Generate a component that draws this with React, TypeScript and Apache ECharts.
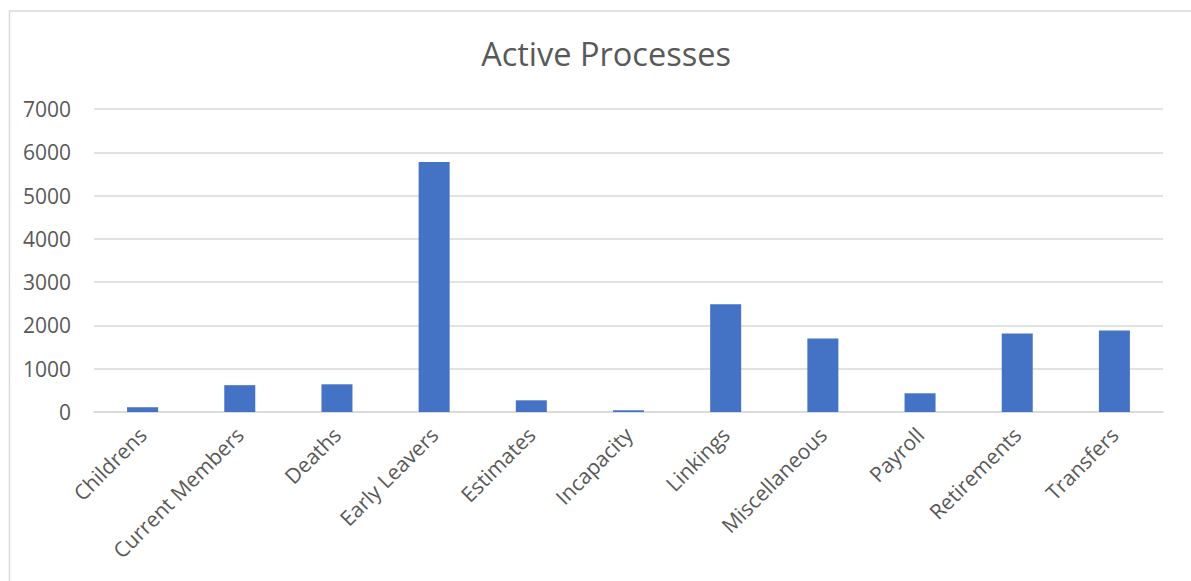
import React, { useEffect, useRef } from "react";
import * as echarts from "echarts";

const categories = [
  "Childrens",
  "Current Members",
  "Deaths",
  "Early Leavers",
  "Estimates",
  "Incapacity",
  "Linkings",
  "Miscellaneous",
  "Payroll",
  "Retirements",
  "Transfers",
];
const values = [110, 620, 640, 5775, 270, 40, 2490, 1700, 432, 1815, 1885];
const chartTitle = "Active Processes";

export default function App() {
  const ref = useRef<HTMLDivElement>(null);
  useEffect(() => {
    if (!ref.current) return;
    const chart = echarts.init(ref.current, undefined, { renderer: "svg" });
    const font = "'Open Sans', 'Noto Sans', sans-serif";
    chart.setOption({
      animation: false,
      backgroundColor: "#ffffff",
      title: {
        text: chartTitle,
        left: 601,
        textAlign: "center",
        top: 32,
        textStyle: { fontFamily: font, fontSize: 32.5, fontWeight: "normal", color: "#595959" },
      },
      graphic: [
        {
          type: "rect",
          shape: { x: 9.5, y: 11, width: 1200, height: 600 },
          style: { fill: "none", stroke: "#d9d9d9", lineWidth: 1.5 },
          silent: true,
        },
      ],
      grid: { left: 94, right: 28, top: 109, bottom: 169, containLabel: false },
      xAxis: {
        type: "category",
        data: categories,
        axisLine: { show: true, lineStyle: { color: "#d9d9d9", width: 1.5 } },
        axisTick: { show: false },
        axisLabel: {
          rotate: 45,
          interval: 0,
          margin: 19,
          fontFamily: font,
          fontSize: 21,
          color: "#595959",
        },
      },
      yAxis: {
        type: "value",
        min: 0,
        max: 7000,
        interval: 1000,
        axisLine: { show: false },
        axisTick: { show: false },
        splitLine: { lineStyle: { color: "#d9d9d9", width: 1.5 } },
        axisLabel: {
          margin: 23,
          fontFamily: font,
          fontSize: 21,
          color: "#595959",
          formatter: (v: number) => String(v),
        },
      },
      series: [
        {
          type: "bar",
          data: values,
          barWidth: 31,
          itemStyle: { color: "#4472c4" },
        },
      ],
    });
    return () => chart.dispose();
  }, []);
  return (
    <div
      ref={ref}
      style={{ position: "fixed", left: 0, top: 0, width: 1191, height: 581 }}
    />
  );
}
